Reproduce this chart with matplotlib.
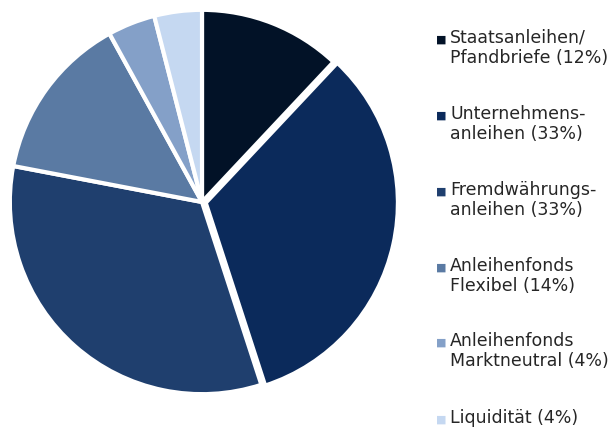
import matplotlib.pyplot as plt

labels = ["Staatsanleihen/\nPfandbriefe (12%)", "Unternehmens-\nanleihen (33%)",
          "Fremdwährungs-\nanleihen (33%)", "Anleihenfonds\nFlexibel (14%)",
          "Anleihenfonds\nMarktneutral (4%)", "Liquidität (4%)"]
shares = [12, 33, 33, 14, 4, 4]
colors = ["#021227", "#0b2a5b", "#1f3f6e", "#5a7aa3", "#84a0c8", "#c5d8f1"]

fig = plt.figure(figsize=(6.14, 4.32), dpi=100)
ax = fig.add_axes([6 / 614, 33 / 432, 392 / 614, 394 / 432])
ax.pie(shares, colors=colors, startangle=90, counterclock=False,
       explode=[0, 0.02, 0, 0, 0, 0],
       wedgeprops=dict(edgecolor="white", linewidth=3))
ax.set_xlim(-1.02, 1.02)
ax.set_ylim(-1.02, 1.02)
ax.set_aspect("equal")

# legend drawn by hand so the marker sits on the first line
y_px = [40, 116, 192, 268, 343, 420]
for lab, col, y in zip(labels, colors, y_px):
    fig.text(436 / 614, 1 - y / 432, "■", color=col, fontsize=8, va="center", ha="left")
    fig.text(450 / 614, 1 - (y - 11) / 432, lab, fontsize=12.5, color="#262626",
             va="top", ha="left", linespacing=1.15, family="DejaVu Sans")

fig.savefig("out.png", dpi=100)
